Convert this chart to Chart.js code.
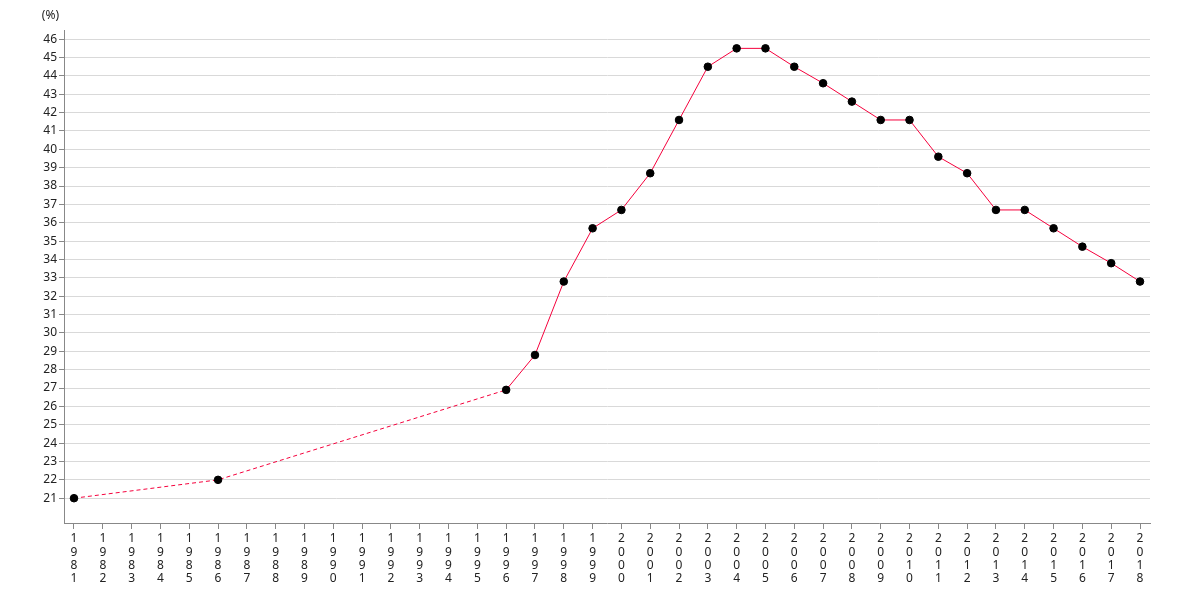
<!DOCTYPE html>
<html>
<head>
<meta charset="utf-8">
<script src="https://cdn.jsdelivr.net/npm/chart.js@4/dist/chart.umd.min.js"></script>
<style>
  html, body { margin: 0; padding: 0; background: #fff; }
  #wrap { width: 1180px; height: 600px; position: relative; }
</style>
</head>
<body>
<div id="wrap"><canvas id="grafica"></canvas></div>
<script>
const years = [1981, 1986, 1996, 1997, 1998, 1999, 2000, 2001, 2002, 2003, 2004, 2005,
    2006, 2007, 2008, 2009, 2010, 2011, 2012, 2013, 2014, 2015, 2016, 2017, 2018];
const rates = [21, 22, 26.9, 28.8, 32.8, 35.7, 36.7, 38.7, 41.6, 44.5, 45.5, 45.5,
    44.5, 43.6, 42.6, 41.6, 41.6, 39.6, 38.7, 36.7, 36.7, 35.7, 34.7, 33.8, 32.8];
const yTicks = [];
for (let v = 21; v <= 46; v++) yTicks.push(v);
const xTicks = [];
for (let y = 1981; y <= 2018; y++) xTicks.push(y);
const unitLabel = '(%)';

const puntos = years.map((y, i) => ({ x: y, y: rates[i] }));

const etiquetaUnidad = {
    id: 'etiquetaUnidad',
    afterDraw(chart) {
        const ctx = chart.ctx;
        const s = chart.scales.y;
        ctx.save();
        ctx.font = '12px "Noto Sans", sans-serif';
        ctx.fillStyle = '#222';
        ctx.textAlign = 'right';
        ctx.textBaseline = 'middle';
        ctx.fillText(unitLabel, s.right - 5, 16);
        ctx.restore();
    }
};

new Chart(document.getElementById('grafica'), {
    type: 'line',
    data: {
        datasets: [{
            data: puntos,
            borderColor: '#f5003c',
            borderWidth: 1,
            backgroundColor: '#000',
            pointBackgroundColor: '#000',
            pointBorderColor: '#000',
            pointRadius: 3.8,
            pointBorderWidth: 1,
            tension: 0,
            fill: false,
            segment: {
                borderDash: c => (c.p1.parsed.x - c.p0.parsed.x > 1 ? [4, 3] : undefined)
            }
        }]
    },
    options: {
        responsive: true,
        maintainAspectRatio: false,
        animation: false,
        layout: { padding: { top: 30, right: 30, left: 0, bottom: 0 } },
        plugins: { legend: { display: false }, tooltip: { enabled: false } },
        scales: {
            x: {
                type: 'linear',
                min: 1980.653,
                max: 2018.347,
                afterBuildTicks: a => { a.ticks = xTicks.map(v => ({ value: v })); },
                afterFit: a => { a.height = 77; },
                border: { color: '#888', width: 1 },
                grid: { drawOnChartArea: false, tickLength: 6, tickColor: '#888' },
                ticks: {
                    autoSkip: false,
                    maxRotation: 0,
                    padding: 3,
                    color: '#222',
                    font: { family: '"Noto Sans", sans-serif', size: 12, lineHeight: 1.12 },
                    callback: v => String(v).split('')
                }
            },
            y: {
                min: 19.65,
                max: 46.5,
                afterBuildTicks: a => { a.ticks = yTicks.map(v => ({ value: v })); },
                afterFit: a => { a.width = 64; },
                border: { color: '#888', width: 1 },
                grid: { color: '#d9d9d9', tickLength: 5, tickColor: '#888' },
                ticks: {
                    padding: 2,
                    color: '#222',
                    font: { family: '"Noto Sans", sans-serif', size: 12 }
                }
            }
        }
    },
    plugins: [etiquetaUnidad]
});
</script>
</body>
</html>
